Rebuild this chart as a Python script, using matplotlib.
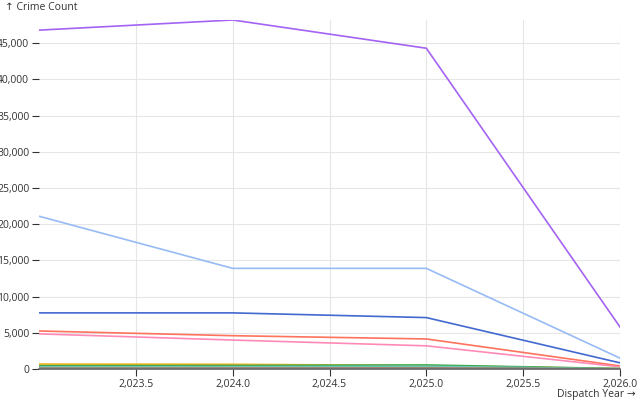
import matplotlib
matplotlib.use('Agg')
import matplotlib.pyplot as plt
from matplotlib.ticker import FuncFormatter, MultipleLocator, FixedLocator

plt.rcParams['font.family'] = ['Open Sans', 'DejaVu Sans']

years = [2023, 2024, 2025, 2026]
x_ticks = [2023.5, 2024.0, 2024.5, 2025.0, 2025.5, 2026.0]

# crime counts per category
crime_types = ['Theft', 'Assault', 'Burglary', 'Vandalism', 'Fraud',
               'Robbery', 'Drugs', 'Weapons', 'Arson', 'Other']
counts = {
    'Theft':     [46800, 48200, 44300, 5800],
    'Assault':   [21100, 13900, 13900, 1500],
    'Burglary':  [7750, 7750, 7100, 850],
    'Vandalism': [5250, 4600, 4150, 420],
    'Fraud':     [4850, 4000, 3200, 300],
    'Robbery':   [680, 650, 480, 60],
    'Drugs':     [450, 480, 560, 60],
    'Weapons':   [300, 320, 380, 40],
    'Arson':     [120, 130, 150, 20],
    'Other':     [60, 60, 70, 10],
}
colors = {
    'Theft': '#a463f2', 'Assault': '#97bbf5', 'Burglary': '#4269d0',
    'Vandalism': '#ff725c', 'Fraud': '#ff8ab7', 'Robbery': '#efb118',
    'Drugs': '#3ca951', 'Weapons': '#6cc5b0', 'Arson': '#9c6b4e',
    'Other': '#9498a0',
}

fig = plt.figure(figsize=(6.4, 4.0), dpi=100)
ax = fig.add_axes([39 / 640, 31 / 400, 581 / 640, 349 / 400])

for name in crime_types:
    ax.plot(years, counts[name], color=colors[name], linewidth=1.2)

ymax = max(max(v) for v in counts.values())
ax.set_xlim(2023, 2026)
ax.set_ylim(0, ymax)

ax.xaxis.set_major_locator(FixedLocator(x_ticks))
ax.yaxis.set_major_locator(MultipleLocator(5000))
ax.xaxis.set_major_formatter(FuncFormatter(lambda v, p: f'{v:,.1f}'))
ax.yaxis.set_major_formatter(FuncFormatter(lambda v, p: f'{v:,.0f}'))

ax.grid(color='#e6e6e6', linewidth=0.8)
ax.set_axisbelow(True)
for s in ['top', 'right', 'left']:
    ax.spines[s].set_visible(False)
ax.spines['bottom'].set_color('#666666')
ax.spines['bottom'].set_linewidth(1.2)
ax.tick_params(axis='both', labelsize=7.5, colors='#333333', length=5,
               width=0.8, pad=2)

fig.text(5 / 640, 1 - 7 / 400, '↑ Crime Count', fontsize=7.5,
         color='#333333', va='center', ha='left')
fig.text(636 / 640, 1 - 394 / 400, 'Dispatch Year →', fontsize=7.5,
         color='#333333', va='center', ha='right')

fig.savefig('out.png', dpi=100)
